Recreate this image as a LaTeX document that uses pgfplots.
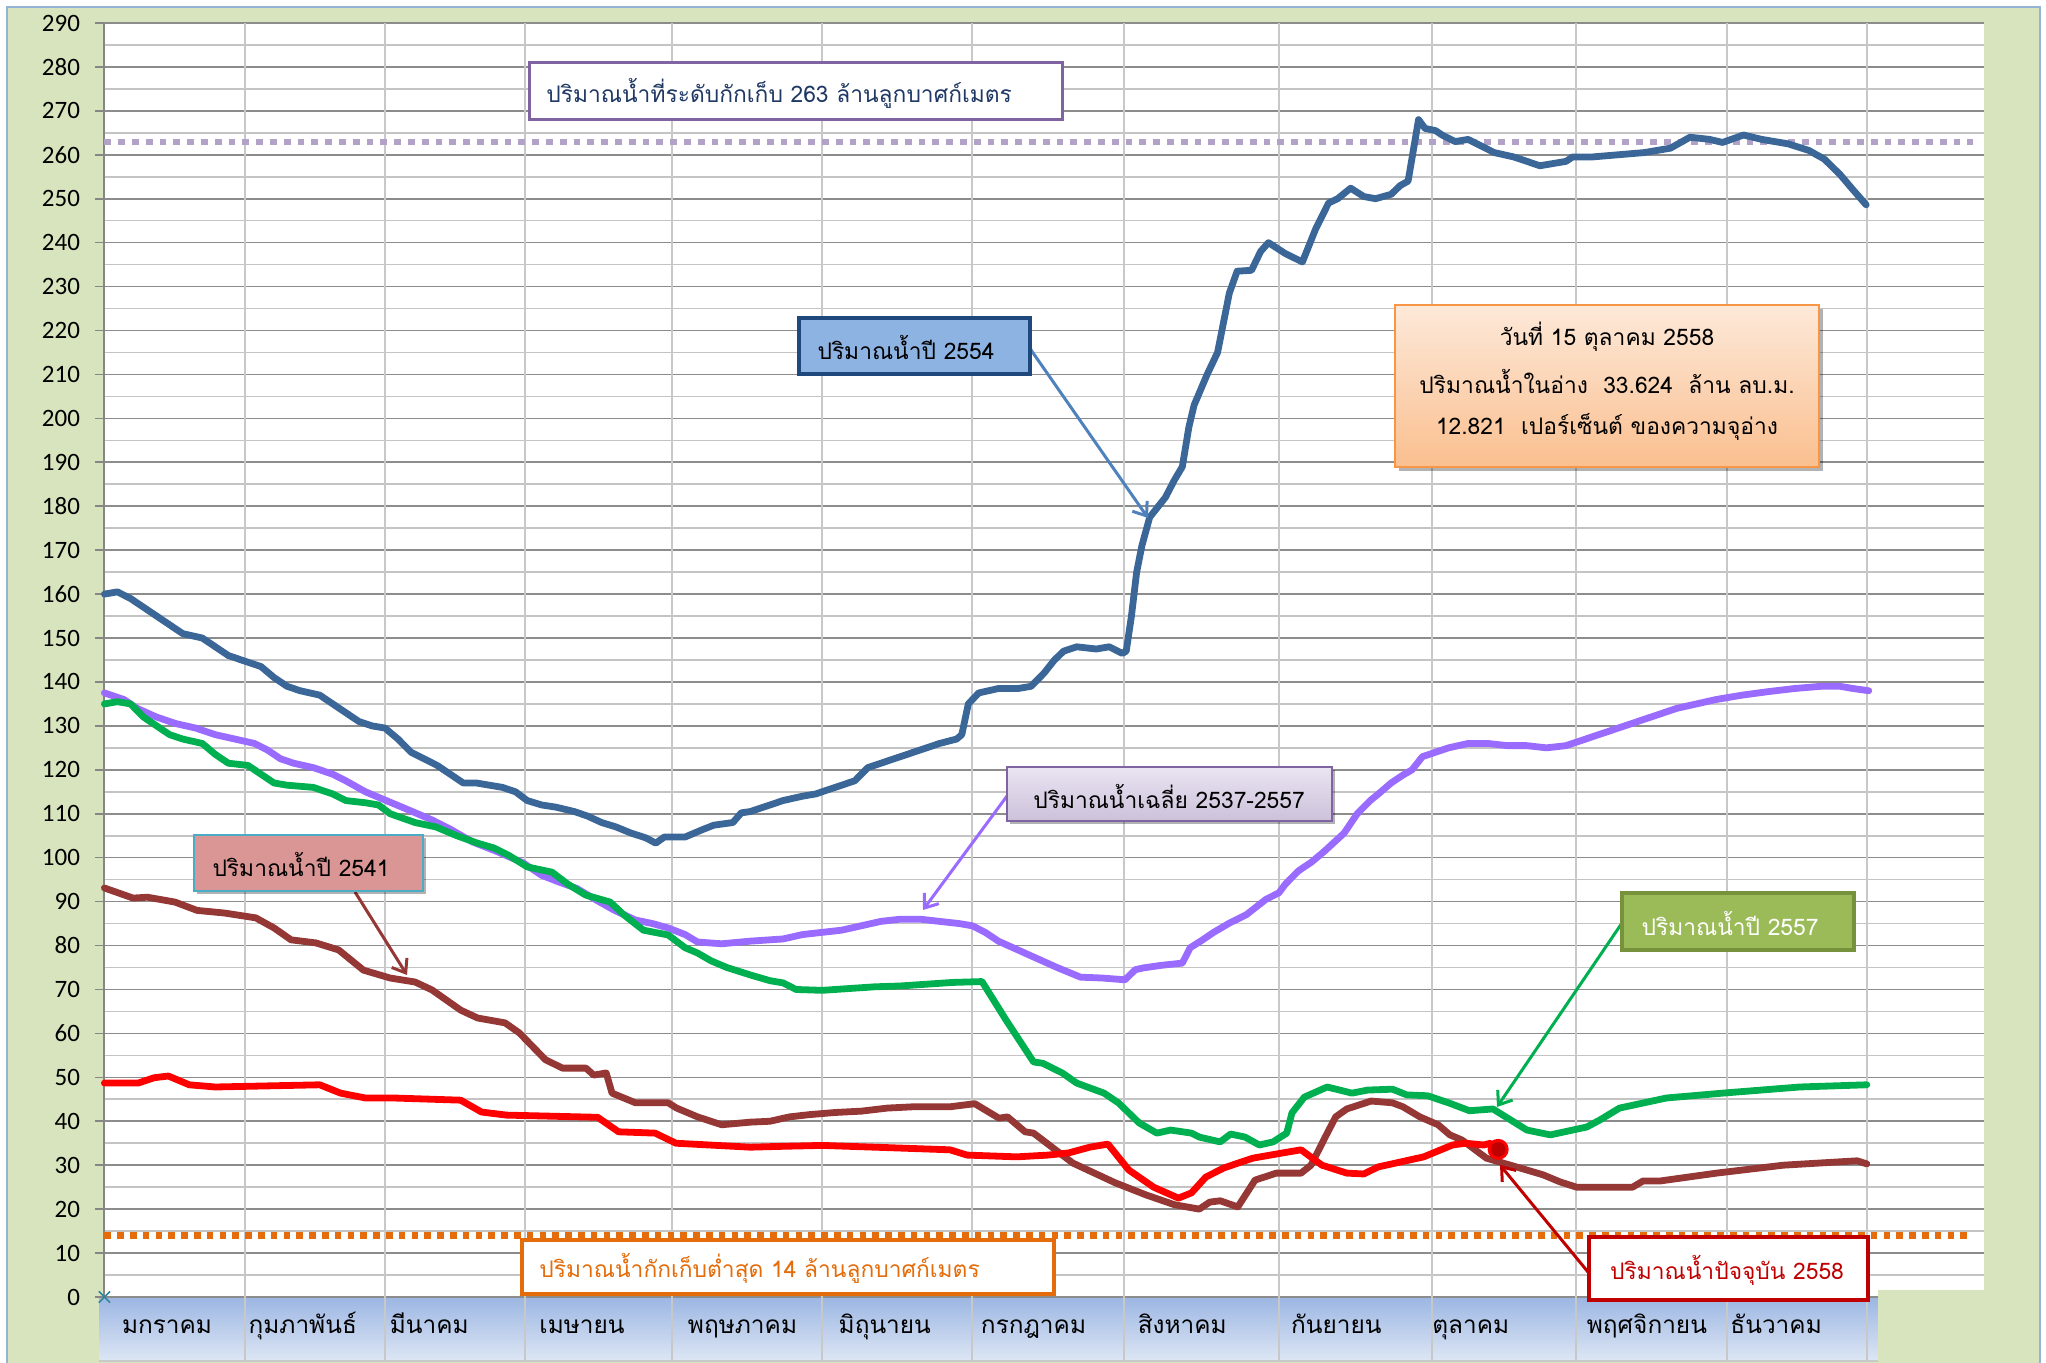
\documentclass[border=0pt]{standalone}
\usepackage{fontspec}
\setmainfont{Carlito}
\newfontfamily\thai[Script=Thai]{Loma}
\usepackage{pgfplots}
\pgfplotsset{compat=1.18}
\usetikzlibrary{shadows,arrows.meta}
\definecolor{bggreen}{HTML}{D7E4BD}
\definecolor{frameblue}{HTML}{95B3D7}
\definecolor{band1}{HTML}{9CB6E3}
\definecolor{band2}{HTML}{DDE6F4}
\definecolor{gridmajor}{HTML}{8C8C8C}
\definecolor{gridminor}{HTML}{C4C4C4}
\definecolor{vgrid}{HTML}{C8C8C8}
\definecolor{axisgray}{HTML}{868686}
\definecolor{c2554}{HTML}{3B6698}
\definecolor{cavg}{HTML}{9A6BFF}
\definecolor{c2557}{HTML}{00B050}
\definecolor{c2541}{HTML}{953735}
\definecolor{c2558}{HTML}{FF0000}
\definecolor{darkred}{HTML}{C00000}
\definecolor{thrpurple}{HTML}{B3A2C7}
\definecolor{throrange}{HTML}{E46C0A}
\definecolor{boxpurple}{HTML}{8064A2}
\definecolor{navy}{HTML}{1F3864}
\definecolor{boxblue}{HTML}{8DB3E2}
\definecolor{boxblueb}{HTML}{1F497D}
\definecolor{arrblue}{HTML}{4F81BD}
\definecolor{infotop}{HTML}{FDE9D9}
\definecolor{infobot}{HTML}{FABF8F}
\definecolor{infob}{HTML}{F79646}
\definecolor{avgtop}{HTML}{EAE4F2}
\definecolor{avgbot}{HTML}{CCC1DA}
\definecolor{pink}{HTML}{D99694}
\definecolor{teal}{HTML}{4BACC6}
\definecolor{gbox}{HTML}{9BBB59}
\definecolor{gboxb}{HTML}{76923C}
\definecolor{xteal}{HTML}{31859C}
\begin{document}
\begin{tikzpicture}
\useasboundingbox (0pt,0pt) rectangle (1023pt,681.5pt);
\fill[white] (0pt,0pt) rectangle (1023pt,681.5pt);
\begin{scope}[x=0.5pt,y=-0.5pt,shift={(0pt,681.5pt)}]
 \fill[bggreen] (7,7) rectangle (2040,1370);
 \draw[frameblue,line width=0.8pt] (7,1370) -- (7,7) -- (2040,7) -- (2040,1370);
 \shade[top color=band1,bottom color=band2] (99,1297) rectangle (1878,1361);
 \draw[vgrid,line width=1pt] (99,1361) -- (1878,1361);
\end{scope}
\begin{axis}[
 at={(52.2pt,33pt)}, anchor=south west, scale only axis,
 width=939.6pt, height=637pt,
 xmin=80, xmax=1520, ymin=0, ymax=290,
 axis background/.style={fill=white},
 clip=false,
 separate axis lines,
 axis x line*=bottom, axis y line*=left,
 x axis line style={draw=none},
 y axis line style={draw=axisgray,line width=1pt},
 ytick={0,10,...,290}, minor ytick={5,15,...,285},
 ymajorgrids, yminorgrids,
 major grid style={draw=gridmajor,line width=0.8pt},
 minor grid style={draw=gridminor,line width=0.8pt},
 tick align=outside, major tick length=4.5pt, minor tick length=0pt,
 ytick style={draw=axisgray,line width=0.8pt},
 xtick={128,232,329,446,569,678,792,906,1024,1127,1262,1361},
 xticklabels={มกราคม,กุมภาพันธ์,มีนาคม,เมษายน,พฤษภาคม,มิถุนายน,กรกฎาคม,สิงหาคม,กันยายน,ตุลาคม,พฤศจิกายน,ธันวาคม},
 xtick style={draw=none},
 extra x ticks={188,295,402,515,630,745,861,980,1097,1208,1323,1431},
 extra x tick labels={},
 extra x tick style={grid=major, major grid style={draw=vgrid,line width=1pt}, tick style={draw=none}},
 yticklabel style={font=\fontsize{12.5}{14}\selectfont, anchor=east, inner sep=0pt, xshift=-7.5pt},
 xticklabel style={font=\thai\fontsize{12.2}{14}\selectfont, anchor=base, inner sep=0pt, yshift=-14pt},
 /pgf/number format/assume math mode=true,
]
% band separators
\pgfplotsinvokeforeach{188,295,402,515,630,745,861,980,1097,1208,1323,1431}{
  \draw[vgrid,line width=1pt] (axis cs:#1,0) -- (axis cs:#1,-14.8);
}
% thresholds
\addplot[draw=thrpurple, line width=3pt, dash pattern=on 3.4pt off 3.5pt] coordinates {(80,263) (1512,263)};
\addplot[draw=throrange, line width=3.2pt, dash pattern=on 3.3pt off 3.1pt] coordinates {(80,14) (1512,14)};
% average 2537-2557
\addplot[cavg, line width=3.4pt, line join=round, line cap=round] coordinates {
(80,137.5) (95,136) (105,134) (120,132) (135,130.5) (150,129.5) (165,128) (180,127) (195,126) (205,124.5) (215,122.5) (225,121.5) (240,120.5) (255,119) (265,117.5) (280,115) (296,113) (312,111) (331,108.6) (345,106.5) (362,103.6) (380,101.5) (401,98.8) (415,96) (428,94.5) (442,93) (456,90.5) (471,88) (487,85.8) (500,85) (512,84) (525,82.5) (534.5,80.8) (553,80.4) (575,81) (600,81.5) (615,82.5) (630,83) (645,83.5) (660,84.5) (675,85.5) (690,86) (705,86) (720,85.5) (735,85) (745,84.5) (755,83) (765,81) (780,79) (795,77) (810,75) (828,72.8) (845,72.6) (862,72.2) (870,74.5) (876,74.9) (890,75.5) (906,76) (912,79.5) (920,81) (930,83) (942,85.1) (955,87) (970,90.5) (980,92) (985,94) (995,97) (1005,99) (1015,101.5) (1030,105.6) (1040,110) (1050,113) (1057,114.7) (1066,117) (1075,118.8) (1082,120) (1090,123) (1100,124) (1110,125) (1125,126) (1140,126) (1155,125.5) (1170,125.5) (1185,125) (1200,125.5) (1210,126.5) (1225,128) (1240,129.5) (1255,131) (1270,132.5) (1285,134) (1300,135) (1315,136) (1335,137) (1355,137.8) (1375,138.5) (1395,139) (1410,139) (1420,138.5) (1432,138)
};
% 2557
\addplot[c2557, line width=3.4pt, line join=round, line cap=round] coordinates {
(80,135) (90,135.5) (100,135) (110,132) (120,130) (130,128) (140,127) (155,126) (165,123.5) (175,121.5) (190,121) (200,119) (210,117) (220,116.5) (240,116) (255,114.5) (265,113) (280,112.5) (290,112) (299,110) (318,108) (334,107) (350,105) (366,103.3) (378.6,102.2) (390,100.5) (404,97.9) (423,96.7) (435,94) (448.7,91.5) (467.5,89.9) (478,87) (493,83.5) (512,82.4) (525,79.5) (534.5,78.3) (545,76.5) (557,75) (575,73.3) (590,72) (600,71.5) (610,70) (630,69.8) (650,70.2) (670,70.6) (690,70.8) (710,71.2) (730,71.6) (752.5,71.8) (771,63) (792,53.5) (799,53.2) (814,51) (825,48.7) (846,46.4) (857,44.2) (873,39.6) (886.5,37.3) (897,38) (913,37.3) (919,36.4) (935,35.3) (943,37.1) (954,36.4) (965,34.6) (975.5,35.3) (986,37.3) (990,41.9) (999.5,45.5) (1017,47.8) (1036,46.4) (1048,47.1) (1067,47.3) (1078,46) (1094,45.8) (1110,44.2) (1126,42.4) (1144,42.8) (1170,38) (1188,36.9) (1216,38.7) (1226,40.3) (1241,43) (1277,45.3) (1320,46.4) (1379,47.8) (1430.5,48.3)
};
% 2554
\addplot[c2554, line width=3.4pt, line join=round, line cap=round] coordinates {
(80,160) (90,160.5) (100,159) (110,157) (120,155) (130,153) (140,151) (155,150) (165,148) (175,146) (185,145) (200,143.5) (210,141) (220,139) (230,138) (245,137) (255,135) (265,133) (275,131) (285,130) (295,129.5) (305,127) (315,124) (325,122.5) (335,121) (345,119) (355,117) (365,117) (375,116.5) (385,116) (395,115) (404,113) (415,112) (426,111.5) (440,110.5) (450,109.5) (461,108) (472,107) (483.5,105.6) (495,104.5) (502.5,103.3) (509,104.7) (525,104.7) (537.6,106.3) (547,107.4) (561.6,108) (568,110.2) (575,110.5) (585,111.5) (600,113) (615,114) (625,114.5) (635,115.5) (645,116.5) (655,117.5) (665,120.5) (680,122) (690,123) (705,124.5) (720,126) (733,127) (737,128) (742,135) (750,137.5) (765,138.5) (780,138.5) (790,139) (800,142) (808,145) (815,147) (825,148) (840,147.5) (850,148) (860,146.5) (863,147) (867,155) (871,165) (875,171) (881,177.5) (893,182) (900,186) (906,189) (911,198) (915,203) (925,210) (933,215) (942,228.5) (948,233.5) (959,233.7) (966,238) (972,240) (985,237.5) (998,235.6) (1008,243) (1018,249) (1025,250) (1035,252.4) (1045,250.5) (1054,250) (1066,251) (1073,253) (1079,254) (1083,261) (1087,268) (1092,266) (1100,265.5) (1105,264.5) (1115,263) (1125,263.5) (1135,262) (1145,260.5) (1160,259.5) (1170,258.5) (1180,257.5) (1190,258) (1200,258.5) (1205,259.5) (1220,259.5) (1240,260) (1260,260.5) (1280,261.5) (1295,264) (1310,263.5) (1320,262.8) (1336,264.5) (1350,263.5) (1370,262.5) (1386,261) (1398,259) (1410,255.5) (1420,252) (1430,248.6)
};
% 2541
\addplot[c2541, line width=3.4pt, line join=round, line cap=round] coordinates {
(80,93.1) (102,90.8) (113,91) (134,89.9) (151,88) (172,87.4) (196,86.3) (210,84) (223,81.3) (242,80.6) (259.5,79) (278.5,74.4) (299,72.6) (318,71.7) (331,69.9) (353,65.3) (366,63.5) (387,62.4) (398,60.1) (418,54) (431,52.1) (449,52.1) (455,50.5) (464.5,51) (469,46.4) (487,44.2) (512,44.2) (518.5,43) (534.5,41) (553,39.2) (575,39.8) (590,40) (605,41) (620,41.5) (640,42) (660,42.3) (680,43) (700,43.3) (728,43.3) (747,44) (765.5,40.7) (772,41) (785.5,37.6) (792,37.3) (822,30.5) (854.5,26) (878.5,23.2) (900,21) (919,20) (927,21.6) (935,21.9) (948.5,20.5) (961.7,26.6) (978,28.2) (997,28.2) (1004.6,30) (1015.5,36.4) (1023.5,41) (1032,42.8) (1050.6,44.6) (1067,44.2) (1075,43.3) (1088,41) (1102,39.2) (1111,36.9) (1120.5,35.7) (1139,31.6) (1162,29.6) (1182.5,27.8) (1195.4,26.2) (1208,25) (1251,25) (1259,26.4) (1272,26.4) (1315.5,28.2) (1366.5,30) (1423,31) (1430.5,30.3)
};
% 2558
\addplot[c2558, line width=3.4pt, line join=round, line cap=round] coordinates {
(80,48.7) (106,48.7) (118,49.9) (129,50.3) (145,48.3) (165,47.8) (245,48.3) (261,46.4) (280,45.3) (301,45.3) (353,44.8) (369,42.1) (388,41.4) (458,40.9) (474,37.6) (502,37.3) (518,35) (575,34.1) (600,34.3) (630,34.5) (680,34) (728,33.5) (741,32.3) (779,31.9) (803,32.3) (819,32.8) (835,34.1) (849,34.8) (865,28.9) (884,25) (903,22.5) (913,23.7) (924,27.3) (938,29.4) (960,31.6) (983,32.8) (997,33.5) (1013,30) (1032,28.2) (1045,28) (1056,29.6) (1091,31.9) (1113,34.6) (1123,35) (1137,34.6) (1142,35) (1148,33.6)
};
\addplot[only marks, mark=*, mark size=4.5pt, mark options={draw=c2558, fill=darkred, line width=1.5pt}] coordinates {(1148,33.6)};
\addplot[only marks, mark=x, mark size=4pt, mark options={draw=xteal, line width=0.8pt}] coordinates {(80,0)};
\end{axis}
\begin{scope}[x=0.5pt,y=-0.5pt,shift={(0pt,681.5pt)}, font=\thai\fontsize{11.4}{13}\selectfont]
 \fill[bggreen] (1878,1290) rectangle (2039,1370);
 % top storage box
 \draw[boxpurple, line width=1.5pt, fill=white] (529,63) rectangle (1062,120);
 \node[anchor=west, text=navy, inner sep=0pt] at (546,93) {ปริมาณน้ำที่ระดับกักเก็บ 263 ล้านลูกบาศก์เมตร};
 % min storage box
 \draw[throrange, line width=2pt, fill=white] (522,1240) rectangle (1054,1294);
 \node[anchor=west, text=throrange, inner sep=0pt] at (539,1268) {ปริมาณน้ำกักเก็บต่ำสุด 14 ล้านลูกบาศก์เมตร};
 % 2554 box
 \draw[-{Straight Barb[length=6pt,width=9pt]}, arrblue, line width=1.5pt] (1031,350) -- (1148,518);
 \draw[boxblueb, line width=1.75pt, fill=boxblue] (799,318) rectangle (1030,374);
 \node[text=black] at (906,348) {ปริมาณน้ำปี 2554};
 % info box
 \path[drop shadow={shadow xshift=2pt,shadow yshift=-2pt,opacity=0.3,fill=black}, top color=infotop, bottom color=infobot, draw=infob, line width=0.6pt] (1395,305) rectangle (1819,467);
 \node[text=black] at (1607,337) {วันที่ 15 ตุลาคม 2558};
 \node[text=black] at (1607,382) {ปริมาณน้ำในอ่าง\ \ 33.624\ \ ล้าน ลบ.ม.};
 \node[text=black] at (1607,427) {12.821\ \ เปอร์เซ็นต์ ของความจุอ่าง};
 % avg box
 \draw[-{Straight Barb[length=6pt,width=9pt]}, cavg, line width=1.5pt] (1007,796) -- (923,910);
 \path[drop shadow={shadow xshift=1.5pt,shadow yshift=-1.5pt,opacity=0.3,fill=black}, top color=avgtop, bottom color=avgbot, draw=boxpurple, line width=0.8pt] (1007,767) rectangle (1332,821);
 \node[text=black] at (1169,796) {ปริมาณน้ำเฉลี่ย 2537-2557};
 % 2541 box
 \draw[-{Straight Barb[length=6pt,width=9pt]}, c2541, line width=1.5pt] (355,892) -- (407,975);
 \path[drop shadow={shadow xshift=1.5pt,shadow yshift=-1.5pt,opacity=0.3,fill=black}, fill=pink, draw=teal, line width=0.8pt] (194,835) rectangle (423,891);
 \node[text=black] at (301,864) {ปริมาณน้ำปี 2541};
 % 2557 box
 \draw[-{Straight Barb[length=6pt,width=9pt]}, c2557, line width=1.5pt] (1622,923) -- (1497,1107);
 \draw[gboxb, line width=2pt, fill=gbox] (1622,893) rectangle (1854,950);
 \node[text=white] at (1730,923) {ปริมาณน้ำปี 2557};
 % 2558 box
 \draw[-{Straight Barb[length=6pt,width=9pt]}, darkred, line width=1.5pt] (1588,1272) -- (1500,1165);
 \draw[darkred, line width=2.2pt, fill=white] (1589,1237) rectangle (1868,1300);
 \node[text=darkred] at (1727,1270) {ปริมาณน้ำปัจจุบัน 2558};
\end{scope}
\end{tikzpicture}
\end{document}
